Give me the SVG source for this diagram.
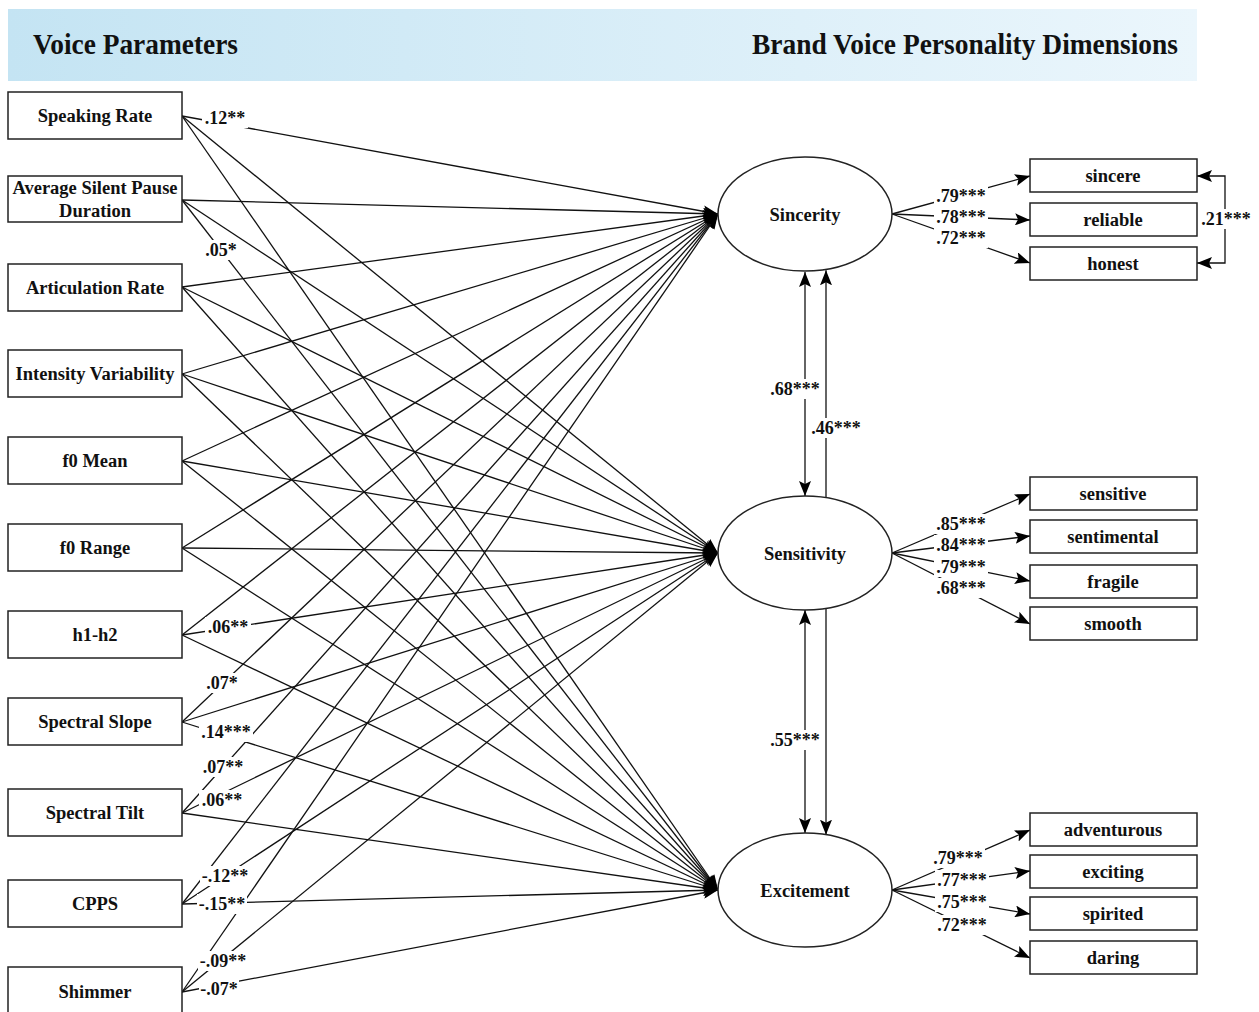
<svg xmlns="http://www.w3.org/2000/svg" width="1259" height="1012" viewBox="0 0 1259 1012">
<defs>
<linearGradient id="hdr" x1="0" y1="0" x2="1" y2="0">
<stop offset="0" stop-color="#c4e4f3"/>
<stop offset="1" stop-color="#ebf6fc"/>
</linearGradient>
<marker id="ah" markerUnits="userSpaceOnUse" markerWidth="16" markerHeight="12" refX="15" refY="6" orient="auto-start-reverse">
<path d="M0,0 L15,6 L0,12 L3,6 z" fill="#000"/>
</marker>
<style>
.box{fill:#fff;stroke:#222;stroke-width:1.5}
.ell{fill:#fff;stroke:#222;stroke-width:1.5}
.t{font-family:"Liberation Serif","Times New Roman",serif;font-weight:bold;font-size:18.5px;fill:#111;text-anchor:middle}
.h{font-family:"Liberation Serif","Times New Roman",serif;font-weight:bold;font-size:29px;fill:#111}
.lb{font-family:"Liberation Serif","Times New Roman",serif;font-weight:bold;font-size:18px;fill:#111;text-anchor:middle}
.lr{fill:#fff}
.c{stroke:#111;stroke-width:1.3;fill:none}
.a{stroke:#111;stroke-width:1.3;fill:none;marker-end:url(#ah)}
.d{stroke:#111;stroke-width:1.3;fill:none;marker-end:url(#ah);marker-start:url(#ah)}
</style>
</defs>
<rect width="1259" height="1012" fill="#fff"/>
<g id="header">
<rect x="8" y="9" width="1189" height="72" fill="url(#hdr)"/>
<text class="h" x="33" y="54" textLength="205" lengthAdjust="spacingAndGlyphs">Voice Parameters</text>
<text class="h" x="752" y="54" textLength="426" lengthAdjust="spacingAndGlyphs">Brand Voice Personality Dimensions</text>
</g>
<g id="connectors">
<line class="a" x1="182" y1="116" x2="718" y2="214"/>
<line class="a" x1="182" y1="116" x2="718" y2="553"/>
<line class="a" x1="182" y1="116" x2="718" y2="890"/>
<line class="a" x1="182" y1="200" x2="718" y2="214"/>
<line class="a" x1="182" y1="200" x2="718" y2="553"/>
<line class="a" x1="182" y1="200" x2="718" y2="890"/>
<line class="a" x1="182" y1="287" x2="718" y2="214"/>
<line class="a" x1="182" y1="287" x2="718" y2="553"/>
<line class="a" x1="182" y1="287" x2="718" y2="890"/>
<line class="a" x1="182" y1="374" x2="718" y2="214"/>
<line class="a" x1="182" y1="374" x2="718" y2="553"/>
<line class="a" x1="182" y1="374" x2="718" y2="890"/>
<line class="a" x1="182" y1="461" x2="718" y2="214"/>
<line class="a" x1="182" y1="461" x2="718" y2="553"/>
<line class="a" x1="182" y1="461" x2="718" y2="890"/>
<line class="a" x1="182" y1="548" x2="718" y2="214"/>
<line class="a" x1="182" y1="548" x2="718" y2="553"/>
<line class="a" x1="182" y1="548" x2="718" y2="890"/>
<line class="a" x1="182" y1="635" x2="718" y2="214"/>
<line class="a" x1="182" y1="635" x2="718" y2="553"/>
<line class="a" x1="182" y1="635" x2="718" y2="890"/>
<line class="a" x1="182" y1="722" x2="718" y2="214"/>
<line class="a" x1="182" y1="722" x2="718" y2="553"/>
<line class="a" x1="182" y1="722" x2="718" y2="890"/>
<line class="a" x1="182" y1="813" x2="718" y2="214"/>
<line class="a" x1="182" y1="813" x2="718" y2="553"/>
<line class="a" x1="182" y1="813" x2="718" y2="890"/>
<line class="a" x1="182" y1="904" x2="718" y2="214"/>
<line class="a" x1="182" y1="904" x2="718" y2="553"/>
<line class="a" x1="182" y1="904" x2="718" y2="890"/>
<line class="a" x1="182" y1="992" x2="718" y2="214"/>
<line class="a" x1="182" y1="992" x2="718" y2="553"/>
<line class="a" x1="182" y1="992" x2="718" y2="890"/>
<line class="d" x1="805" y1="272" x2="805" y2="496"/>
<line class="a" x1="826" y1="497.7" x2="826" y2="270.3"/>
<line class="d" x1="805" y1="610" x2="805" y2="833"/>
<line class="a" x1="826" y1="608.3" x2="826" y2="834.7"/>
<line class="a" x1="892" y1="214" x2="1030" y2="176"/>
<line class="a" x1="892" y1="214" x2="1030" y2="220"/>
<line class="a" x1="892" y1="214" x2="1030" y2="263"/>
<polyline class="d" points="1197,176 1225,176 1225,263 1197,263"/>
<line class="a" x1="892" y1="553" x2="1030" y2="494"/>
<line class="a" x1="892" y1="553" x2="1030" y2="536"/>
<line class="a" x1="892" y1="553" x2="1030" y2="581"/>
<line class="a" x1="892" y1="553" x2="1030" y2="624"/>
<line class="a" x1="892" y1="890" x2="1030" y2="830"/>
<line class="a" x1="892" y1="890" x2="1030" y2="871"/>
<line class="a" x1="892" y1="890" x2="1030" y2="914"/>
<line class="a" x1="892" y1="890" x2="1030" y2="958"/>
</g>
<g id="labels">
<rect class="lr" x="202" y="108" width="46" height="20"/><text class="lb" x="225" y="124">.12**</text>
<rect class="lr" x="203" y="240" width="36" height="20"/><text class="lb" x="221" y="256">.05*</text>
<rect class="lr" x="205" y="617" width="46" height="20"/><text class="lb" x="228" y="633">.06**</text>
<rect class="lr" x="204" y="673" width="36" height="20"/><text class="lb" x="222" y="689">.07*</text>
<rect class="lr" x="199" y="722" width="54" height="20"/><text class="lb" x="226" y="738">.14***</text>
<rect class="lr" x="200" y="757" width="46" height="20"/><text class="lb" x="223" y="773">.07**</text>
<rect class="lr" x="199" y="790" width="46" height="20"/><text class="lb" x="222" y="806">.06**</text>
<rect class="lr" x="200" y="866" width="50" height="20"/><text class="lb" x="225" y="882">-.12**</text>
<rect class="lr" x="197" y="894" width="50" height="20"/><text class="lb" x="222" y="910">-.15**</text>
<rect class="lr" x="198" y="951" width="50" height="20"/><text class="lb" x="223" y="967">-.09**</text>
<rect class="lr" x="199" y="979" width="40" height="20"/><text class="lb" x="219" y="995">-.07*</text>
<rect class="lr" x="934" y="186" width="54" height="20"/><text class="lb" x="961" y="202">.79***</text>
<rect class="lr" x="934" y="207" width="54" height="20"/><text class="lb" x="961" y="223">.78***</text>
<rect class="lr" x="934" y="228" width="54" height="20"/><text class="lb" x="961" y="244">.72***</text>
<rect class="lr" x="1199" y="209" width="54" height="20"/><text class="lb" x="1226" y="225">.21***</text>
<rect class="lr" x="934" y="514" width="54" height="20"/><text class="lb" x="961" y="530">.85***</text>
<rect class="lr" x="934" y="535" width="54" height="20"/><text class="lb" x="961" y="551">.84***</text>
<rect class="lr" x="934" y="557" width="54" height="20"/><text class="lb" x="961" y="573">.79***</text>
<rect class="lr" x="934" y="578" width="54" height="20"/><text class="lb" x="961" y="594">.68***</text>
<rect class="lr" x="931" y="848" width="54" height="20"/><text class="lb" x="958" y="864">.79***</text>
<rect class="lr" x="935" y="870" width="54" height="20"/><text class="lb" x="962" y="886">.77***</text>
<rect class="lr" x="935" y="892" width="54" height="20"/><text class="lb" x="962" y="908">.75***</text>
<rect class="lr" x="935" y="915" width="54" height="20"/><text class="lb" x="962" y="931">.72***</text>
<rect class="lr" x="768" y="379" width="54" height="20"/><text class="lb" x="795" y="395">.68***</text>
<rect class="lr" x="809" y="418" width="54" height="20"/><text class="lb" x="836" y="434">.46***</text>
<rect class="lr" x="768" y="730" width="54" height="20"/><text class="lb" x="795" y="746">.55***</text>
</g>
<g id="n-speaking-rate"><rect class="box" x="8" y="92" width="174" height="47"/><text class="t" x="95" y="122">Speaking Rate</text></g>
<g id="n-aspd"><rect class="box" x="8" y="176" width="174" height="46"/><text class="t" x="95" y="194">Average Silent Pause</text><text class="t" x="95" y="217">Duration</text></g>
<g id="n-articulation-rate"><rect class="box" x="8" y="264" width="174" height="47"/><text class="t" x="95" y="294">Articulation Rate</text></g>
<g id="n-intensity-variability"><rect class="box" x="8" y="350" width="174" height="47"/><text class="t" x="95" y="380">Intensity Variability</text></g>
<g id="n-f0-mean"><rect class="box" x="8" y="437" width="174" height="47"/><text class="t" x="95" y="467">f0 Mean</text></g>
<g id="n-f0-range"><rect class="box" x="8" y="524" width="174" height="47"/><text class="t" x="95" y="554">f0 Range</text></g>
<g id="n-h1-h2"><rect class="box" x="8" y="611" width="174" height="47"/><text class="t" x="95" y="641">h1-h2</text></g>
<g id="n-spectral-slope"><rect class="box" x="8" y="698" width="174" height="47"/><text class="t" x="95" y="728">Spectral Slope</text></g>
<g id="n-spectral-tilt"><rect class="box" x="8" y="789" width="174" height="47"/><text class="t" x="95" y="819">Spectral Tilt</text></g>
<g id="n-cpps"><rect class="box" x="8" y="880" width="174" height="47"/><text class="t" x="95" y="910">CPPS</text></g>
<g id="n-shimmer"><rect class="box" x="8" y="967" width="174" height="50"/><text class="t" x="95" y="998">Shimmer</text></g>
<g id="n-sincerity"><ellipse class="ell" cx="805" cy="214" rx="87" ry="57"/><text class="t" x="805" y="221">Sincerity</text></g>
<g id="n-sensitivity"><ellipse class="ell" cx="805" cy="553" rx="87" ry="57"/><text class="t" x="805" y="560">Sensitivity</text></g>
<g id="n-excitement"><ellipse class="ell" cx="805" cy="890" rx="87" ry="57"/><text class="t" x="805" y="897">Excitement</text></g>
<g id="n-sincere"><rect class="box" x="1030" y="159" width="167" height="33"/><text class="t" x="1113" y="182">sincere</text></g>
<g id="n-reliable"><rect class="box" x="1030" y="203" width="167" height="33"/><text class="t" x="1113" y="226">reliable</text></g>
<g id="n-honest"><rect class="box" x="1030" y="247" width="167" height="33"/><text class="t" x="1113" y="270">honest</text></g>
<g id="n-sensitive"><rect class="box" x="1030" y="477" width="167" height="33"/><text class="t" x="1113" y="500">sensitive</text></g>
<g id="n-sentimental"><rect class="box" x="1030" y="520" width="167" height="33"/><text class="t" x="1113" y="543">sentimental</text></g>
<g id="n-fragile"><rect class="box" x="1030" y="565" width="167" height="33"/><text class="t" x="1113" y="588">fragile</text></g>
<g id="n-smooth"><rect class="box" x="1030" y="607" width="167" height="33"/><text class="t" x="1113" y="630">smooth</text></g>
<g id="n-adventurous"><rect class="box" x="1030" y="813" width="167" height="33"/><text class="t" x="1113" y="836">adventurous</text></g>
<g id="n-exciting"><rect class="box" x="1030" y="855" width="167" height="33"/><text class="t" x="1113" y="878">exciting</text></g>
<g id="n-spirited"><rect class="box" x="1030" y="897" width="167" height="33"/><text class="t" x="1113" y="920">spirited</text></g>
<g id="n-daring"><rect class="box" x="1030" y="941" width="167" height="33"/><text class="t" x="1113" y="964">daring</text></g>
</svg>
